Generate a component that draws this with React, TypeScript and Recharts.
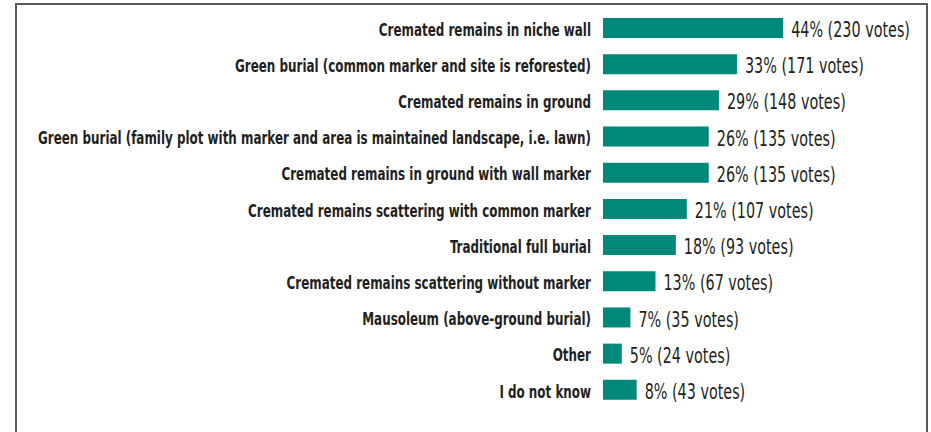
import { BarChart, Bar, XAxis, YAxis, LabelList } from "recharts";

const categories = [
  "Cremated remains in niche wall",
  "Green burial (common marker and site is reforested)",
  "Cremated remains in ground",
  "Green burial (family plot with marker and area is maintained landscape, i.e. lawn)",
  "Cremated remains in ground with wall marker",
  "Cremated remains scattering with common marker",
  "Traditional full burial",
  "Cremated remains scattering without marker",
  "Mausoleum (above-ground burial)",
  "Other",
  "I do not know",
];

const percents = [44, 33, 29, 26, 26, 21, 18, 13, 7, 5, 8];
const votes = [230, 171, 148, 135, 135, 107, 93, 67, 35, 24, 43];

const data = categories.map((name, i) => ({
  name,
  votes: votes[i],
  label: `${percents[i]}% (${votes[i]} votes)`,
}));

// no narrow font installed, so squeeze DejaVu Condensed horizontally
const FONT = "'Liberation Sans Narrow', 'DejaVu Sans Condensed', sans-serif";
const TEAL = "#00897b";
const INK = "#231f20";

function CategoryTick(props: any) {
  const { x, y, payload } = props;
  return (
    <text
      transform={`translate(${x},${y + 1.5}) scale(0.78,1)`}
      textAnchor="end"
      dy="0.36em"
      fontSize={17}
      fontWeight={700}
      fill={INK}
      fontFamily={FONT}
    >
      {payload.value}
    </text>
  );
}

function ValueLabel(props: any) {
  const { x, y, width, height, value } = props;
  const tx = Number(x) + Number(width) + 8;
  const ty = Number(y) + Number(height) / 2 + 1.5;
  return (
    <text
      transform={`translate(${tx},${ty}) scale(0.76,1)`}
      textAnchor="start"
      dy="0.36em"
      fontSize={21}
      fill={INK}
      fontFamily={FONT}
    >
      {value}
    </text>
  );
}

export default function App() {
  return (
    <div style={{ position: "absolute", left: 0, top: 0, width: 931, height: 432, overflow: "hidden", background: "#fff" }}>
      <div
        style={{
          position: "absolute",
          left: 15,
          top: 3,
          width: 909,
          height: 440,
          border: "2px solid #5a5a5a",
          borderBottom: "none",
        }}
      />
      <div style={{ position: "absolute", left: 0, top: 0 }}>
        <BarChart
          width={931}
          height={432}
          data={data}
          layout="vertical"
          margin={{ top: 10, right: 93, bottom: 24, left: 0 }}
        >
          <XAxis type="number" dataKey="votes" domain={[0, 300]} hide />
          <YAxis
            type="category"
            dataKey="name"
            width={603}
            axisLine={false}
            tickLine={false}
            tickSize={0}
            tickMargin={12}
            interval={0}
            tick={<CategoryTick />}
          />
          <Bar dataKey="votes" fill={TEAL} barSize={20} isAnimationActive={false}>
            <LabelList dataKey="label" content={<ValueLabel />} />
          </Bar>
        </BarChart>
      </div>
    </div>
  );
}
